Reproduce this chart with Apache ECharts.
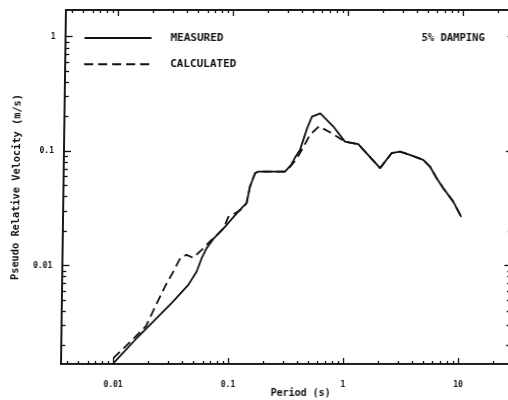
<!DOCTYPE html>
<html>
<head>
<meta charset="utf-8">
<script src="https://cdn.jsdelivr.net/npm/echarts@6/dist/echarts.min.js"></script>
<style>
  html, body { margin: 0; padding: 0; background: #fff; overflow: hidden; }
  #chart { width: 508px; height: 400px; transform: skewX(-0.8deg); transform-origin: 0 364px; }
</style>
</head>
<body>
<div id="chart"></div>
<script>
// Response spectrum, 5% damping: period (s) vs pseudo relative velocity (m/s)
const measuredPeriod = [0.01, 0.0164, 0.022, 0.0316, 0.044, 0.0518, 0.057, 0.0628, 0.0716, 0.0931,
  0.117, 0.138, 0.147, 0.162, 0.173, 0.295, 0.333, 0.366, 0.396, 0.454, 0.499, 0.589, 0.768,
  0.972, 1.27, 1.98, 2.48, 2.93, 3.58, 4.68, 5.37, 6.16, 7.06, 8.65, 10.2];
const measuredVelocity = [0.0014, 0.0024, 0.00324, 0.0047, 0.00678, 0.00887, 0.0116, 0.0142, 0.0171, 0.0226,
  0.0296, 0.0351, 0.049, 0.0641, 0.0662, 0.0662, 0.0757, 0.0908, 0.102, 0.158, 0.2, 0.214, 0.164,
  0.121, 0.115, 0.071, 0.0959, 0.099, 0.0927, 0.0838, 0.0733, 0.058, 0.0474, 0.0362, 0.0266];

const calculatedPeriod = [0.01, 0.0139, 0.0191, 0.0227, 0.0281, 0.0324, 0.0372, 0.042, 0.048, 0.0569,
  0.0684, 0.0716, 0.088, 0.096, 0.11, 0.125, 0.138, 0.147, 0.162, 0.173, 0.295, 0.319, 0.366,
  0.42, 0.481, 0.576, 0.748, 0.972, 1.27, 1.98, 2.48, 2.93, 3.58, 4.68, 5.37, 6.16, 7.06, 8.65, 10.2];
const calculatedVelocity = [0.00155, 0.00214, 0.00297, 0.00435, 0.0068, 0.0088, 0.0117, 0.0124, 0.0117, 0.0137,
  0.0166, 0.0171, 0.0212, 0.0265, 0.0287, 0.031, 0.0351, 0.049, 0.0641, 0.0662, 0.0662, 0.071, 0.0838,
  0.1067, 0.1386, 0.1645, 0.143, 0.121, 0.115, 0.071, 0.0959, 0.099, 0.0927, 0.0838, 0.0733, 0.058, 0.0474, 0.0362, 0.0266];

const xMajorTicks = [0.01, 0.1, 1, 10];
const xTickLabels = ['0.01', '0.1', '1', '10'];
const xMinorTicks = [0.004, 0.005, 0.006, 0.007, 0.008, 0.009,
  0.02, 0.03, 0.04, 0.05, 0.06, 0.07, 0.08, 0.09,
  0.2, 0.3, 0.4, 0.5, 0.6, 0.7, 0.8, 0.9,
  2, 3, 4, 5, 6, 7, 8, 9, 20];
const yMajorTicks = [0.01, 0.1, 1];
const yTickLabels = ['0.01', '0.1', '1'];
const yMinorTicks = [0.002, 0.003, 0.004, 0.005, 0.006, 0.007, 0.008, 0.009,
  0.02, 0.03, 0.04, 0.05, 0.06, 0.07, 0.08, 0.09,
  0.2, 0.3, 0.4, 0.5, 0.6, 0.7, 0.8, 0.9];

const X_MIN = 0.00351, X_MAX = 28.2;
const Y_MIN = 0.00138, Y_MAX = 1.71;

const INK = '#111';
const FONT = '"DejaVu Sans Mono", monospace';

function labelFor(ticks, labels) {
  return function (v) {
    let best = 0, bestD = Infinity;
    ticks.forEach(function (t, i) {
      const d = Math.abs(Math.log10(t) - Math.log10(v));
      if (d < bestD) { bestD = d; best = i; }
    });
    return labels[best];
  };
}

function makeAxis(dim, position, tickValues, tickLen, withLabels) {
  const isX = dim === 'x';
  const ax = {
    type: 'log',
    logBase: 10,
    position: position,
    min: isX ? X_MIN : Y_MIN,
    max: isX ? X_MAX : Y_MAX,
    axisLine: { show: true, onZero: false, lineStyle: { color: INK, width: 1.6 } },
    axisTick: { show: true, inside: true, length: tickLen, customValues: tickValues,
      lineStyle: { color: INK, width: 1.3 } },
    axisLabel: { show: false },
    splitLine: { show: false },
    minorTick: { show: false }
  };
  if (withLabels) {
    ax.axisLabel = {
      show: true,
      customValues: isX ? xMajorTicks : yMajorTicks,
      formatter: isX ? labelFor(xMajorTicks, xTickLabels) : labelFor(yMajorTicks, yTickLabels),
      color: INK, fontFamily: FONT, fontWeight: 'bold', fontSize: 8,
      margin: isX ? 17 : 10
    };
  }
  return ax;
}

const xAxes = [
  makeAxis('x', 'bottom', xMajorTicks, 6, true),
  makeAxis('x', 'bottom', xMinorTicks, 3, false),
  makeAxis('x', 'top', xMajorTicks, 6, false),
  makeAxis('x', 'top', xMinorTicks, 3, false)
];
xAxes[0].name = 'Period (s)';
xAxes[0].nameLocation = 'middle';
xAxes[0].nameGap = 24;
xAxes[0].nameMoveOverlap = false;
xAxes[0].nameTextStyle = { color: INK, fontFamily: FONT, fontWeight: 'bold', fontSize: 10, padding: [0, 0, 0, 31] };

const yAxes = [
  makeAxis('y', 'left', yMajorTicks, 7, true),
  makeAxis('y', 'left', yMinorTicks, 4, false),
  makeAxis('y', 'right', yMajorTicks, 7, false),
  makeAxis('y', 'right', yMinorTicks, 4, false)
];
yAxes[0].name = 'Pseudo Relative Velocity (m/s)';
yAxes[0].nameLocation = 'middle';
yAxes[0].nameGap = 42;
yAxes[0].nameMoveOverlap = false;
yAxes[0].nameTextStyle = { color: INK, fontFamily: FONT, fontWeight: 'bold', fontSize: 10.3 };

const chart = echarts.init(document.getElementById('chart'), null, { renderer: 'canvas' });
chart.setOption({
  animation: false,
  backgroundColor: '#fff',
  grid: { left: 61, right: -2, top: 10, bottom: 36, containLabel: false, outerBoundsMode: 'none' },
  title: {
    text: '5% DAMPING', left: 412, top: 28,
    textStyle: { color: INK, fontFamily: FONT, fontWeight: 'bold', fontSize: 10.5 }
  },
  legend: {
    orient: 'vertical', left: 74, top: 27.5,
    itemWidth: 67, itemHeight: 14, itemGap: 15,
    selectedMode: false,
    data: ['MEASURED', 'CALCULATED'],
    itemStyle: { opacity: 0 },
    textStyle: { color: INK, fontFamily: FONT, fontWeight: 'bold', fontSize: 11, padding: [0, 0, 0, 14] }
  },
  xAxis: xAxes,
  yAxis: yAxes,
  series: [
    {
      name: 'MEASURED', type: 'line', xAxisIndex: 0, yAxisIndex: 0,
      symbol: 'none', smooth: false,
      lineStyle: { color: INK, width: 1.8, type: 'solid' },
      itemStyle: { color: INK },
      data: measuredPeriod.map(function (p, i) { return [p, measuredVelocity[i]]; })
    },
    {
      name: 'CALCULATED', type: 'line', xAxisIndex: 0, yAxisIndex: 0,
      symbol: 'none', smooth: false,
      lineStyle: { color: INK, width: 1.8, type: [9, 5] },
      itemStyle: { color: INK },
      data: calculatedPeriod.map(function (p, i) { return [p, calculatedVelocity[i]]; })
    }
  ]
});
</script>
</body>
</html>
